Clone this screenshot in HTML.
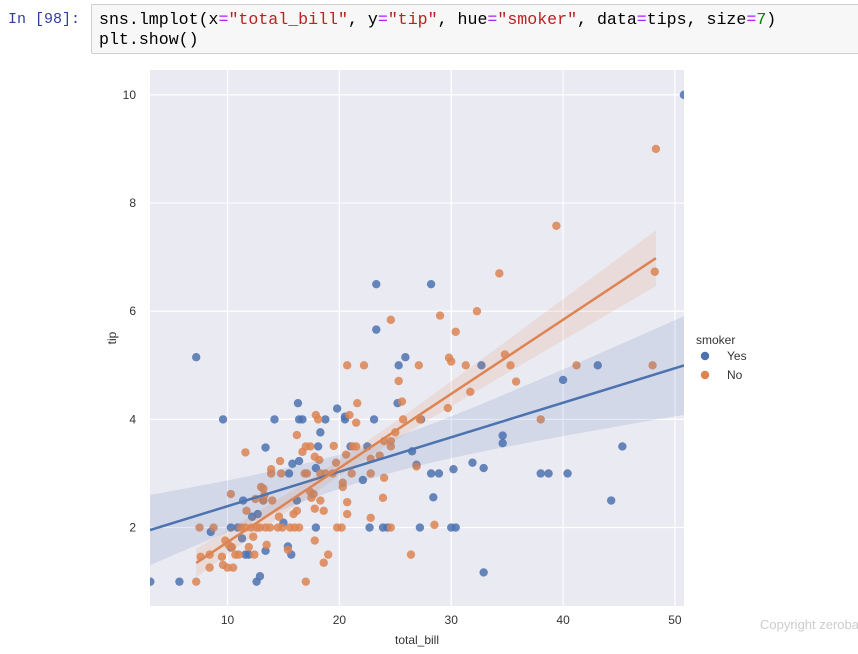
<!DOCTYPE html>
<html><head><meta charset="utf-8"><style>
body{margin:0;width:858px;height:654px;background:#fff;overflow:hidden;position:relative;font-family:"Liberation Sans",sans-serif}
#prompt{position:absolute;left:8px;top:11px;font:15px "Liberation Mono",monospace;color:#303f9f}
#cell{position:absolute;left:91px;top:4px;width:780px;height:50px;background:#f7f7f7;border:1px solid #cfcfcf;border-radius:2px;box-sizing:border-box;padding:5px 7px;font:16.6px/20px "Liberation Mono",monospace;color:#000;white-space:pre}
.s{color:#ba2121}.o{color:#aa22ff}.n{color:#008000}
#copy{position:absolute;left:760px;top:617px;font-size:13px;color:#ccc;white-space:nowrap}
</style></head><body>
<div id="prompt">In [98]:</div>
<div id="cell">sns.lmplot(x<span class="o">=</span><span class="s">"total_bill"</span>, y<span class="o">=</span><span class="s">"tip"</span>, hue<span class="o">=</span><span class="s">"smoker"</span>, data<span class="o">=</span>tips, size<span class="o">=</span><span class="n">7</span>)
plt.show()</div>
<svg id="chart" width="858" height="654" style="position:absolute;left:0;top:0"></svg>
<div id="copy">Copyright zerobanana</div>
<script>
const xTicks=[10,20,30,40,50];
const yTicks=[2,4,6,8,10];
const xDomain=[3.07,50.81];
const yDomain=[0.55,10.46];
const yesBill=[3.1,5.7,7.2,9.6,8.5,10.3,10.9,11.3,10.3,11.6,11.9,11.4,12.2,12.7,12.6,12.9,13.4,13.4,13.2,14.2,15.0,15.4,15.7,15.5,15.8,16.4,16.3,16.4,16.7,16.2,17.9,18.3,18.1,18.75,17.9,19.8,20.5,20.5,21.0,22.1,22.5,23.1,23.3,22.7,23.9,24.3,25.2,25.3,25.9,26.5,26.9,27.2,27.3,28.2,28.9,28.4,30.2,30.0,30.4,31.9,32.7,32.9,32.9,34.6,34.6,23.3,28.2,38.0,38.7,40.0,40.4,43.1,44.3,45.3,50.8];
const yesTip=[1.0,1.0,5.15,4.0,1.92,2.0,2.0,1.8,1.63,1.5,1.5,2.5,2.2,2.25,1.0,1.1,3.48,1.57,2.5,4.0,2.09,1.65,1.5,3.0,3.18,3.23,4.3,4.0,4.0,2.5,3.1,3.76,3.5,4.0,2.0,4.2,4.05,4.0,3.5,2.88,3.5,4.0,5.66,2.0,2.0,2.0,4.3,5.0,5.15,3.41,3.16,2.0,4.0,3.0,3.0,2.56,3.08,2.0,2.0,3.2,5.0,3.1,1.17,3.7,3.56,6.5,6.5,3.0,3.0,4.73,3.0,5.0,2.5,3.5,10.0];
const noBill=[7.2,7.5,7.6,8.4,8.75,8.4,9.5,9.6,10.0,10.5,9.8,10.1,10.4,10.7,11.0,10.3,11.6,11.2,11.6,12.1,12.6,12.9,13.4,13.8,14.5,14.9,11.9,12.4,12.3,11.7,12.5,13.2,14.0,13.0,13.2,13.3,14.7,13.9,13.9,14.8,14.6,13.5,15.4,15.9,16.2,15.6,16.0,16.4,16.2,16.7,17.0,17.4,16.9,17.1,17.8,18.2,17.9,18.1,18.3,18.75,19.4,17.4,17.7,17.5,18.3,17.8,18.6,17.8,17.0,19.0,18.6,19.5,19.7,19.8,20.2,20.3,20.3,20.7,20.7,20.7,22.2,20.9,21.5,21.6,20.6,21.2,21.5,21.1,22.8,22.8,23.6,24.0,23.9,22.8,24.6,26.4,24.0,24.6,24.6,25.0,25.7,25.6,25.3,24.6,27.1,26.9,28.5,29.0,30.4,29.8,30.0,31.3,32.3,31.7,29.7,34.8,35.3,35.8,27.2,34.3,39.4,48.3,48.2,48.0,41.2,38.0];
const noTip=[1.0,2.0,1.46,1.5,2.0,1.26,1.46,1.31,1.26,1.26,1.76,1.68,1.64,1.5,1.5,2.62,3.39,2.0,2.0,2.0,2.0,2.0,2.0,2.0,2.0,2.0,1.64,1.5,1.83,2.31,2.53,2.5,2.5,2.75,2.72,2.6,3.23,3.08,3.0,3.0,2.2,1.68,1.59,2.25,2.31,2.0,2.0,2.0,3.71,3.4,3.5,3.5,3.0,3.0,3.31,3.25,4.08,4.0,3.0,3.0,3.0,2.66,2.62,2.55,2.5,2.35,2.31,1.76,1.0,1.5,1.35,3.51,3.2,2.0,2.0,2.83,2.75,2.47,2.25,5.0,5.0,4.08,3.94,4.3,3.35,3.5,3.5,3.0,3.27,3.0,3.33,2.92,2.55,2.18,2.0,1.5,3.6,3.6,3.5,3.76,4.0,4.33,4.71,5.84,5.0,3.13,2.05,5.92,5.62,5.14,5.07,5.0,6.0,4.51,4.21,5.2,5.0,4.7,4.0,6.7,7.58,9.0,6.73,5.0,5.0,4.0];
const seriesNames=["Yes","No"];

const L=150,R=684,T=70,B=606;
const NS="http://www.w3.org/2000/svg";
const svg=document.getElementById('chart');
function sx(v){return L+(v-xDomain[0])/(xDomain[1]-xDomain[0])*(R-L);}
function sy(v){return B-(v-yDomain[0])/(yDomain[1]-yDomain[0])*(B-T);}
function mk(t,a){const e=document.createElementNS(NS,t);for(const k in a)e.setAttribute(k,a[k]);svg.appendChild(e);return e;}
const bg=mk('rect',{x:L,y:T,width:R-L,height:B-T,fill:'#eaeaf2'});


xTicks.forEach(t=>{const g=mk('line',{x1:sx(t),x2:sx(t),y1:T,y2:B,stroke:'#fff','stroke-width':1.2});


const l=mk('text',{x:sx(t),y:B+18,'text-anchor':'middle','font-size':12,fill:'#333'});l.textContent=t;

});
yTicks.forEach(t=>{const g=mk('line',{x1:L,x2:R,y1:sy(t),y2:sy(t),stroke:'#fff','stroke-width':1.2});


const l=mk('text',{x:136,y:sy(t)+4,'text-anchor':'end','font-size':12,fill:'#333'});l.textContent=t;

});
const xt=mk('text',{x:(L+R)/2,y:644,'text-anchor':'middle','font-size':12,fill:'#333'});xt.textContent='total_bill';


const yt=mk('text',{x:116,y:(T+B)/2,'text-anchor':'middle','font-size':12,fill:'#333',transform:`rotate(-90 116 ${(T+B)/2})`});yt.textContent='tip';



function fit(xs,ys){const n=xs.length,mx=xs.reduce((a,b)=>a+b)/n,my=ys.reduce((a,b)=>a+b)/n;let sxx=0,sxy=0;xs.forEach((x,i)=>{sxx+=(x-mx)**2;sxy+=(x-mx)*(ys[i]-my);});const b=sxy/sxx,a=my-b*mx;let sse=0;xs.forEach((x,i)=>sse+=(ys[i]-a-b*x)**2);const s=Math.sqrt(sse/(n-2));return {a,b,mx,sxx,s,n,min:Math.min(...xs),max:Math.max(...xs)};}
const groups=[[yesBill,yesTip,'#4c72b0',xDomain[0],xDomain[1]],[noBill,noTip,'#dd8452',null,null]];
const cls=document.createElementNS(NS,'clipPath');cls.id='clp';const cr=document.createElementNS(NS,'rect');cr.setAttribute('x',L);cr.setAttribute('y',T);cr.setAttribute('width',R-L);cr.setAttribute('height',B-T);cls.appendChild(cr);svg.appendChild(cls);
const fits=groups.map(g=>fit(g[0],g[1]));
// points
groups.forEach((g,gi)=>{g[0].forEach((x,i)=>{const c=mk('circle',{cx:sx(x),cy:sy(g[1][i]),r:4.2,fill:g[2],'fill-opacity':0.85,'clip-path':'url(#clp)'});

});});
// bands and lines
groups.forEach((g,gi)=>{const f=fits[gi];const x0=g[3]??f.min,x1=g[4]??f.max;const up=[],lo=[];
for(let k=0;k<=60;k++){const x=x0+(x1-x0)*k/60;const y=f.a+f.b*x;const h=1.97*f.s*Math.sqrt(1/f.n+(x-f.mx)**2/f.sxx);up.push(sx(x)+','+sy(y+h));lo.unshift(sx(x)+','+sy(y-h));}
const p=mk('polygon',{points:up.concat(lo).join(' '),fill:g[2],'fill-opacity':0.15,'clip-path':'url(#clp)'});


const l=mk('line',{x1:sx(x0),y1:sy(f.a+f.b*x0),x2:sx(x1),y2:sy(f.a+f.b*x1),stroke:g[2],'stroke-width':2.5,'clip-path':'url(#clp)'});

});
// legend
const lt=mk('text',{x:696,y:344,'font-size':12,fill:'#333'});lt.textContent='smoker';


seriesNames.forEach((n,i)=>{const c=mk('circle',{cx:705,cy:356+i*19,r:4.2,fill:groups[i][2]});


const t=mk('text',{x:727,y:360+i*19,'font-size':12,fill:'#333'});t.textContent=n;

});
</script>
</body></html>
